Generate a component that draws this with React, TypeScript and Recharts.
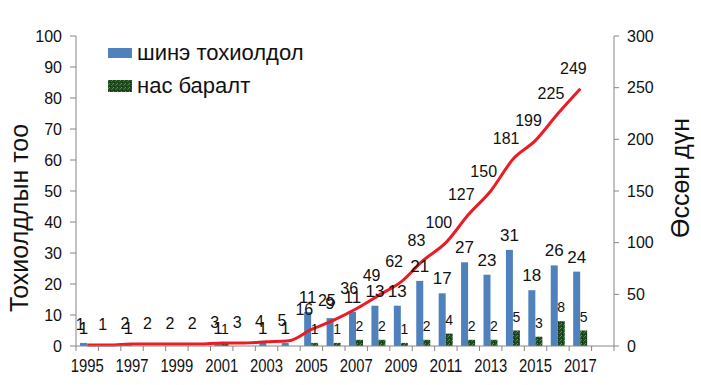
import {
  Bar,
  ComposedChart,
  Label,
  LabelList,
  Legend,
  Line,
  XAxis,
  YAxis,
} from "recharts";

const years = [
  "1995", "1996", "1997", "1998", "1999", "2000", "2001", "2002",
  "2003", "2004", "2005", "2006", "2007", "2008", "2009", "2010",
  "2011", "2012", "2013", "2014", "2015", "2016", "2017", "2018",
];

// шинэ тохиолдол (left axis)
const newCases = [
  1, null, 1, null, null, null, 1, null, 1, 1, 11, 9,
  11, 13, 13, 21, 17, 27, 23, 31, 18, 26, 24, null,
];

// нас баралт (left axis)
const deaths = [
  null, null, null, null, null, null, 1, null, null, null, 1, 1,
  2, 2, 1, 2, 4, 2, 2, 5, 3, 8, 5, null,
];

// өссөн дүн (right axis)
const cumulative = [
  1, 1, 2, 2, 2, 2, 3, 3, 4, 5, 16, 25,
  36, 49, 62, 83, 100, 127, 150, 181, 199, 225, 249, null,
];

const leftTicks = [0, 10, 20, 30, 40, 50, 60, 70, 80, 90, 100];
const rightTicks = [0, 50, 100, 150, 200, 250, 300];

const data = years.map((year, i) => ({
  year,
  newCases: newCases[i],
  deaths: deaths[i],
  cumulative: cumulative[i],
}));

const FONT = "'Liberation Sans', Arial, sans-serif";
const AXIS = "#868686";
const BLUE = "#4f81bd";
const RED = "#ec1c24";

function TexturePattern({ id }: { id: string }) {
  return (
    <pattern id={id} width="4" height="4" patternUnits="userSpaceOnUse">
      <rect width="4" height="4" fill="#1f4b21" />
      <rect x="0" y="0" width="1" height="1" fill="#4f8a4a" />
      <rect x="2" y="2" width="1" height="1" fill="#0e2a10" />
      <rect x="3" y="1" width="1" height="1" fill="#3c7238" />
      <rect x="1" y="3" width="1" height="1" fill="#5b9455" />
    </pattern>
  );
}

function YearTick(props: any) {
  const { x, y, payload } = props;
  const idx = payload?.index ?? props.index ?? 0;
  const half = payload?.offset || 11.2;
  return (
    <g>
      <line x1={x + half} x2={x + half} y1={y} y2={y + 5} stroke={AXIS} />
      {idx === 0 && (
        <line x1={x - half} x2={x - half} y1={y} y2={y + 5} stroke={AXIS} />
      )}
      {idx % 2 === 0 && (
        <text
          x={x}
          y={y + 26}
          textAnchor="middle"
          fontSize={19}
          fontFamily={FONT}
          fill="#111"
          textLength={33}
          lengthAdjust="spacingAndGlyphs"
        >
          {payload.value}
        </text>
      )}
    </g>
  );
}

function cumulativeLabel(props: any) {
  const { value } = props;
  if (value == null) return null;
  const px = props.x ?? props.viewBox?.x;
  const py = props.y ?? props.viewBox?.y;
  return (
    <text
      x={px - 7}
      y={py - 20}
      textAnchor="middle"
      dominantBaseline="central"
      fontSize={16}
      fontFamily={FONT}
      fill="#111"
    >
      {value}
    </text>
  );
}

function LeftTitle(props: any) {
  const vb = props.viewBox || {};
  const cy = (vb.y ?? 36) + (vb.height ?? 310) / 2 + 27;
  return (
    <text
      x={28}
      y={cy}
      transform={`rotate(-90, 28, ${cy})`}
      textAnchor="middle"
      fontSize={25}
      fontFamily={FONT}
      fill="#111"
    >
      Тохиолдлын тоо
    </text>
  );
}

function RightTitle(props: any) {
  const vb = props.viewBox || {};
  const cy = (vb.y ?? 36) + (vb.height ?? 310) / 2 - 13;
  return (
    <text
      x={689}
      y={cy}
      transform={`rotate(-90, 689, ${cy})`}
      textAnchor="middle"
      fontSize={25}
      fontFamily={FONT}
      fill="#111"
    >
      Өссөн дүн
    </text>
  );
}

function ChartLegend() {
  const row = { display: "flex", alignItems: "center", height: 33 } as const;
  const text = { fontSize: 22, fontFamily: FONT, color: "#111", marginLeft: 5 };
  return (
    <div>
      <div style={row}>
        <svg width={24} height={10}>
          <rect width={24} height={10} fill={BLUE} />
        </svg>
        <span style={text}>шинэ тохиолдол</span>
      </div>
      <div style={row}>
        <svg width={24} height={12}>
          <defs>
            <TexturePattern id="deathTexLegend" />
          </defs>
          <rect width={24} height={12} fill="url(#deathTexLegend)" />
        </svg>
        <span style={text}>нас баралт</span>
      </div>
    </div>
  );
}

export default function App() {
  return (
    <div style={{ width: 701, height: 385, background: "#fff" }}>
      <style>{"body{margin:0}"}</style>
      <ComposedChart
        width={701}
        height={385}
        data={data}
        margin={{ top: 36, right: 0, bottom: 0, left: 0 }}
        barGap={0}
        style={{ fontFamily: FONT }}
      >
        <defs>
          <TexturePattern id="deathTex" />
        </defs>
        <XAxis
          dataKey="year"
          height={39}
          interval={0}
          tickLine={false}
          tickSize={0}
          tickMargin={0}
          stroke={AXIS}
          tick={<YearTick />}
        />
        <YAxis
          yAxisId="left"
          width={76}
          domain={[0, 100]}
          ticks={leftTicks}
          tickSize={6}
          tickMargin={8}
          stroke={AXIS}
          tick={{ fontSize: 16, fill: "#111", fontFamily: FONT }}
        >
          <Label content={LeftTitle} />
        </YAxis>
        <YAxis
          yAxisId="right"
          orientation="right"
          width={87}
          domain={[0, 300]}
          ticks={rightTicks}
          tickSize={5}
          tickMargin={8}
          stroke={AXIS}
          tick={{ fontSize: 16, fill: "#111", fontFamily: FONT }}
        >
          <Label content={RightTitle} />
        </YAxis>
        <Legend
          layout="vertical"
          align="center"
          verticalAlign="middle"
          content={<ChartLegend />}
          wrapperStyle={{ left: 108, top: 36, width: 260, height: 70 }}
        />
        <Bar
          yAxisId="left"
          dataKey="newCases"
          name="шинэ тохиолдол"
          fill={BLUE}
          barSize={7}
          isAnimationActive={false}
        >
          <LabelList
            dataKey="newCases"
            position="top"
            offset={9}
            fontSize={17}
            fill="#111"
            fontFamily={FONT}
          />
        </Bar>
        <Bar
          yAxisId="left"
          dataKey="deaths"
          name="нас баралт"
          fill="url(#deathTex)"
          barSize={7}
          isAnimationActive={false}
        >
          <LabelList
            dataKey="deaths"
            position="top"
            offset={9}
            fontSize={14}
            fill="#111"
            fontFamily={FONT}
          />
        </Bar>
        <Line
          yAxisId="right"
          dataKey="cumulative"
          type="monotone"
          stroke={RED}
          strokeWidth={3}
          dot={false}
          activeDot={false}
          isAnimationActive={false}
        >
          <LabelList dataKey="cumulative" content={cumulativeLabel} />
        </Line>
      </ComposedChart>
    </div>
  );
}
